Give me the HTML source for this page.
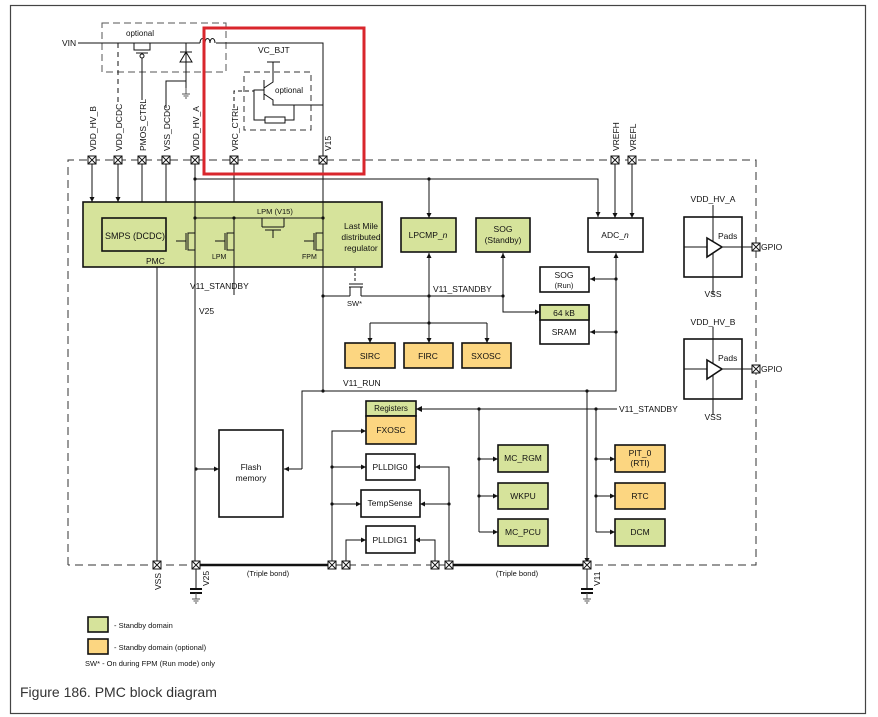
<!DOCTYPE html>
<html><head><meta charset="utf-8"><style>
html,body{margin:0;padding:0;background:#fff}
svg{display:block}
text{font-family:"Liberation Sans",sans-serif;font-size:8.5px;fill:#111}
</style></head><body>
<svg width="878" height="717" viewBox="0 0 878 717" xmlns="http://www.w3.org/2000/svg">
<defs>
<marker id="a" markerWidth="6" markerHeight="6" refX="5" refY="3" orient="auto" markerUnits="userSpaceOnUse"><path d="M0,0.5 L5,3 L0,5.5z" fill="#111"/></marker>
<g id="pin"><rect x="-4" y="-4" width="8" height="8" fill="#fff" stroke="#111" stroke-width="1"/><path d="M-4,-4L4,4M4,-4L-4,4" stroke="#111" stroke-width="0.9"/></g>
<g id="gnd"><path d="M0,0v6M-4,6h8M-2.5,8h5M-1,10h2" stroke="#555" stroke-width="1" fill="none"/></g>
</defs>
<rect x="10.5" y="5.5" width="855" height="708" fill="none" stroke="#444" stroke-width="1.2"/>
<g fill="none" stroke="#111" stroke-width="1">
<path d="M68,565V160H756V565H68" stroke-dasharray="8,5" stroke="#333"/>
<path d="M102,23H226V72H102Z" stroke-dasharray="7,4" stroke="#555"/>
<path d="M244,72H311V130H244Z" stroke-dasharray="6,4" stroke="#333"/>
<path d="M78,43H200M216,43H323V160"/>
<path d="M200,43c0,-6 5,-6 5,0c0,-6 5,-6 5,0c0,-6 5,-6 5,0" />
<path d="M118,43V102" stroke-dasharray="5,4"/>
<path d="M134,43V50H150V43M136,53H148M142,58V100"/>
<circle cx="142" cy="56" r="2"/>
<path d="M186,43V81M180,52H192M180,62L186,52L192,62Z"/>
<path d="M186,81V88M166,108V81H186"/>
<path d="M267,62H280M273,62V82L264,88M264,80V100M264,94L273,100V105H323" />
<path d="M273,105H293" stroke-dasharray="4,3"/>
<path d="M264,90H254V120H265M285,120H294V105"/>
<rect x="265" y="117" width="20" height="6"/>
<path d="M234,108V91H254" stroke-dasharray="4,3"/>
<path d="M92,160V202" marker-end="url(#a)"/>
<path d="M118,160V202" marker-end="url(#a)"/>
<path d="M142,160V202M166,160V202"/>
<path d="M195,160V267M234,160V202M323,160V202" />
<path d="M195,179H598V217" marker-end="url(#a)"/>
<path d="M615,160V218" marker-end="url(#a)"/>
<path d="M632,160V218" marker-end="url(#a)"/>
<path d="M429,179V218" marker-end="url(#a)"/>
</g>
<rect x="204" y="28" width="160" height="146" fill="none" stroke="#d9262c" stroke-width="3"/>
<rect x="83" y="202" width="299" height="65" fill="#d6e39b" stroke="#111" stroke-width="1.6"/>
<rect x="102" y="218" width="64" height="33" fill="#d6e39b" stroke="#111" stroke-width="1.6"/>
<g fill="none" stroke="#111" stroke-width="1">
<path d="M195,202V267M195,218H323M234,218V295M323,202V392"/>
<path d="M195,233H188V250H195M186,233V250M176,241H186"/>
<path d="M234,233H227V250H234M225,233V250M215,241H225"/>
<path d="M323,233H316V250H323M314,233V250M304,241H314"/>
<path d="M262,218V227M284,218V227M262,227H284M265,230H281M273,230V238"/>
<path d="M157,267V565M195,267V565"/>
</g>
<g fill="#111"><circle cx="195" cy="218" r="1.6"/><circle cx="234" cy="218" r="1.6"/><circle cx="323" cy="218" r="1.6"/><circle cx="195" cy="179" r="1.6"/><circle cx="429" cy="179" r="1.6"/></g>
<text x="105" y="239" style="font-size:9px">SMPS (DCDC)</text>
<text x="146" y="264">PMC</text>
<text x="257" y="214" style="font-size:7.5px">LPM (V15)</text>
<text x="212" y="259" style="font-size:7px">LPM</text>
<text x="302" y="259" style="font-size:7px">FPM</text>
<text x="361" y="229" text-anchor="middle">Last Mile</text>
<text x="361" y="240" text-anchor="middle">distributed</text>
<text x="361" y="251" text-anchor="middle">regulator</text>
<text x="190" y="289">V11_STANDBY</text>
<text x="199" y="314">V25</text>
<g fill="none" stroke="#111" stroke-width="1">
<path d="M355,268V283" stroke-dasharray="3,2"/>
<path d="M349,284H363M349,287H363M350,287V296M361,287V296"/>
<path d="M323,296H350M361,296H503V312H540" marker-end="url(#a)"/>
<path d="M503,296V253" marker-end="url(#a)"/>
<path d="M429,296V253" marker-end="url(#a)"/>
<path d="M429,296V343" marker-end="url(#a)"/>
<path d="M370,323H487"/>
<path d="M370,323V343" marker-end="url(#a)"/>
<path d="M487,323V343" marker-end="url(#a)"/>
<path d="M302,469V391H616V253" marker-end="url(#a)"/>
<path d="M616,279H590" marker-end="url(#a)"/>
<path d="M616,332H590" marker-end="url(#a)"/>
<path d="M302,469H284" marker-end="url(#a)"/>
<path d="M196,469H219" marker-end="url(#a)"/>
<path d="M587,391V563" marker-end="url(#a)"/>
</g>
<g fill="#111"><circle cx="323" cy="296" r="1.6"/><circle cx="429" cy="296" r="1.6"/><circle cx="503" cy="296" r="1.6"/><circle cx="429" cy="323" r="1.6"/><circle cx="323" cy="391" r="1.6"/><circle cx="587" cy="391" r="1.6"/><circle cx="616" cy="279" r="1.6"/><circle cx="616" cy="332" r="1.6"/><circle cx="196" cy="469" r="1.6"/></g>
<text x="347" y="306" style="font-size:7.5px">SW*</text>
<text x="433" y="292">V11_STANDBY</text>
<text x="343" y="386">V11_RUN</text>
<g stroke="#111" stroke-width="1.6">
<rect x="401" y="218" width="55" height="34" fill="#d6e39b"/>
<rect x="476" y="218" width="54" height="34" fill="#d6e39b"/>
<rect x="588" y="218" width="55" height="34" fill="#fff"/>
<rect x="540" y="267" width="49" height="25" fill="#fff"/>
<rect x="540" y="305" width="49" height="39" fill="#fff"/>
<rect x="540" y="305" width="49" height="15" fill="#d6e39b"/>
<rect x="345" y="343" width="50" height="25" fill="#fcd681"/>
<rect x="404" y="343" width="49" height="25" fill="#fcd681"/>
<rect x="462" y="343" width="49" height="25" fill="#fcd681"/>
<rect x="219" y="430" width="64" height="87" fill="#fff"/>
<rect x="366" y="401" width="50" height="15" fill="#d6e39b"/>
<rect x="366" y="416" width="50" height="28" fill="#fcd681"/>
<rect x="366" y="454" width="49" height="26" fill="#fff"/>
<rect x="361" y="490" width="59" height="27" fill="#fff"/>
<rect x="366" y="526" width="49" height="27" fill="#fff"/>
<rect x="498" y="445" width="50" height="27" fill="#d6e39b"/>
<rect x="498" y="483" width="50" height="26" fill="#d6e39b"/>
<rect x="498" y="519" width="50" height="27" fill="#d6e39b"/>
<rect x="615" y="445" width="50" height="27" fill="#fcd681"/>
<rect x="615" y="483" width="50" height="26" fill="#fcd681"/>
<rect x="615" y="519" width="50" height="27" fill="#d6e39b"/>
<rect x="684" y="217" width="58" height="60" fill="#fff"/>
<rect x="684" y="339" width="58" height="60" fill="#fff"/>
</g>
<g text-anchor="middle">
<text x="428" y="238">LPCMP_<tspan font-style="italic">n</tspan></text>
<text x="503" y="232">SOG</text><text x="503" y="243">(Standby)</text>
<text x="615" y="238">ADC_<tspan font-style="italic">n</tspan></text>
<text x="564" y="278">SOG</text><text x="564" y="288" style="font-size:7.5px">(Run)</text>
<text x="564" y="316">64 kB</text>
<text x="564" y="335">SRAM</text>
<text x="370" y="359">SIRC</text><text x="428" y="359">FIRC</text><text x="486" y="359">SXOSC</text>
<text x="251" y="470">Flash</text><text x="251" y="481">memory</text>
<text x="391" y="411" style="font-size:8px">Registers</text>
<text x="391" y="433">FXOSC</text>
<text x="390" y="470">PLLDIG0</text>
<text x="390" y="506">TempSense</text>
<text x="390" y="543">PLLDIG1</text>
<text x="523" y="461">MC_RGM</text><text x="523" y="499">WKPU</text><text x="523" y="535">MC_PCU</text>
<text x="640" y="456">PIT_0</text><text x="640" y="466">(RTI)</text>
<text x="640" y="499">RTC</text><text x="640" y="535">DCM</text>
</g>
<g fill="none" stroke="#111" stroke-width="1">
<path d="M713,205V295M684,247H752" /><path d="M707,238V257L722,247Z" stroke-width="1.6" fill="#fff"/>
<path d="M713,327V415M684,369H752" /><path d="M707,360V379L722,369Z" stroke-width="1.6" fill="#fff"/>
<path d="M416,409H617"/>
<path d="M596,409V532M479,409V532"/>
<path d="M479,459H498" marker-end="url(#a)"/><path d="M479,496H498" marker-end="url(#a)"/><path d="M479,532H498" marker-end="url(#a)"/>
<path d="M596,459H615" marker-end="url(#a)"/><path d="M596,496H615" marker-end="url(#a)"/><path d="M596,532H615" marker-end="url(#a)"/>
<path d="M332,565V431H366" marker-end="url(#a)"/>
<path d="M332,467H366" marker-end="url(#a)"/><path d="M332,504H361" marker-end="url(#a)"/>
<path d="M346,565V540H366" marker-end="url(#a)"/>
<path d="M449,565V467H415" marker-end="url(#a)"/><path d="M449,504H420" marker-end="url(#a)"/>
<path d="M435,565V540H415" marker-end="url(#a)"/>
<path d="M196,565V588M587,565V588"/>
</g>
<path d="M416,409L422,406V412Z" fill="#111"/>
<g fill="#111"><circle cx="479" cy="409" r="1.6"/><circle cx="596" cy="409" r="1.6"/><circle cx="332" cy="467" r="1.6"/><circle cx="332" cy="504" r="1.6"/><circle cx="449" cy="504" r="1.6"/><circle cx="479" cy="459" r="1.6"/><circle cx="479" cy="496" r="1.6"/><circle cx="596" cy="459" r="1.6"/><circle cx="596" cy="496" r="1.6"/></g>
<path d="M196,565H332M449,565H587" stroke="#111" stroke-width="2.5"/>
<text x="619" y="412">V11_STANDBY</text>
<text x="718" y="239">Pads</text><text x="718" y="361">Pads</text>
<text x="713" y="202" text-anchor="middle">VDD_HV_A</text><text x="713" y="297" text-anchor="middle">VSS</text>
<text x="713" y="325" text-anchor="middle">VDD_HV_B</text><text x="713" y="420" text-anchor="middle">VSS</text>
<text x="761" y="250">GPIO</text><text x="761" y="372">GPIO</text>
<text x="268" y="576" text-anchor="middle" style="font-size:7.5px">(Triple bond)</text>
<text x="517" y="576" text-anchor="middle" style="font-size:7.5px">(Triple bond)</text>
<g stroke="#111" stroke-width="2"><path d="M190,589H202M190,593H202M581,589H593M581,593H593"/></g>
<use href="#gnd" x="196" y="593"/><use href="#gnd" x="587" y="593"/>
<use href="#gnd" x="186" y="88"/>
<use href="#pin" x="92" y="160"/><use href="#pin" x="118" y="160"/><use href="#pin" x="142" y="160"/><use href="#pin" x="166" y="160"/><use href="#pin" x="195" y="160"/><use href="#pin" x="234" y="160"/><use href="#pin" x="323" y="160"/><use href="#pin" x="615" y="160"/><use href="#pin" x="632" y="160"/>
<use href="#pin" x="756" y="247"/><use href="#pin" x="756" y="369"/>
<use href="#pin" x="157" y="565"/><use href="#pin" x="196" y="565"/><use href="#pin" x="332" y="565"/><use href="#pin" x="346" y="565"/><use href="#pin" x="435" y="565"/><use href="#pin" x="449" y="565"/><use href="#pin" x="587" y="565"/>
<g>
<text transform="translate(96,151) rotate(-90)">VDD_HV_B</text>
<text transform="translate(122,151) rotate(-90)">VDD_DCDC</text>
<text transform="translate(146,151) rotate(-90)">PMOS_CTRL</text>
<text transform="translate(170,151) rotate(-90)">VSS_DCDC</text>
<text transform="translate(199,151) rotate(-90)">VDD_HV_A</text>
<text transform="translate(238,151) rotate(-90)">VRC_CTRL</text>
<text transform="translate(331,151) rotate(-90)">V15</text>
<text transform="translate(619,151) rotate(-90)">VREFH</text>
<text transform="translate(636,151) rotate(-90)">VREFL</text>
<text transform="translate(161,590) rotate(-90)">VSS</text>
<text transform="translate(209,586) rotate(-90)">V25</text>
<text transform="translate(600,586) rotate(-90)">V11</text>
</g>
<text x="62" y="46">VIN</text>
<text x="126" y="36" style="font-size:8px">optional</text>
<text x="258" y="53">VC_BJT</text>
<text x="275" y="93" style="font-size:8px">optional</text>
<rect x="88" y="617" width="20" height="15" fill="#d6e39b" stroke="#111" stroke-width="1.6"/>
<rect x="88" y="639" width="20" height="15" fill="#fcd681" stroke="#111" stroke-width="1.6"/>
<text x="114" y="628" style="font-size:7.5px">- Standby domain</text>
<text x="114" y="650" style="font-size:7.5px">- Standby domain (optional)</text>
<text x="85" y="666" style="font-size:7.5px">SW*  - On during FPM (Run mode) only</text>
<text x="20" y="697" style="font-size:14px;fill:#333">Figure 186.  PMC block diagram</text>
</svg>
</body></html>
